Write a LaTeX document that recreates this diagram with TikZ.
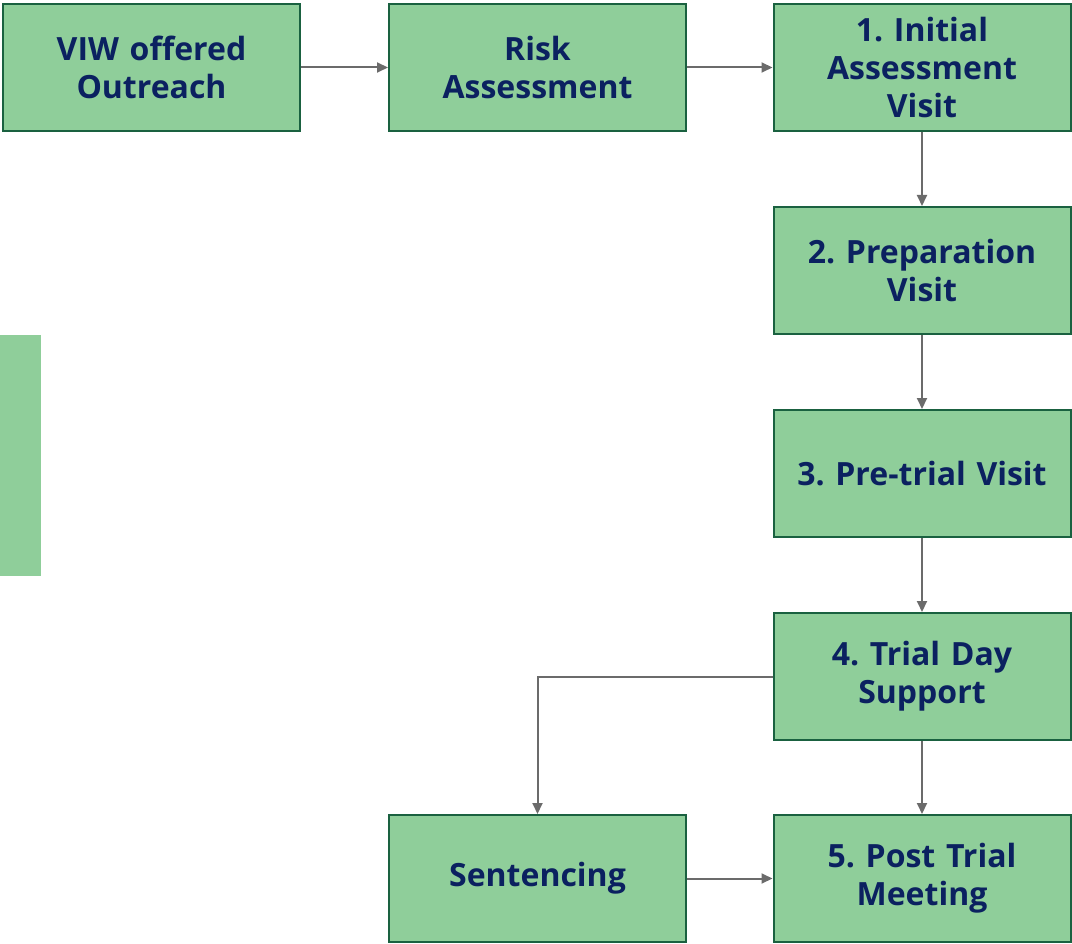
\documentclass[tikz,border=0pt]{standalone}
\usepackage{fontspec}
\setmainfont{Open Sans}
\usetikzlibrary{arrows.meta}
\definecolor{boxfill}{HTML}{8FCE9A}
\definecolor{boxline}{HTML}{1A6140}
\definecolor{boxtext}{HTML}{0B2160}
\definecolor{arrowc}{HTML}{6B6B6B}
\tikzset{
  stepbox/.style={draw=boxline, fill=boxfill, line width=2pt, minimum width=297pt, minimum height=127pt,
    inner sep=0pt, text width=292pt, align=center, text=boxtext,
    font=\fontsize{32}{38}\selectfont\bfseries\frenchspacing},
  conn/.style={draw=arrowc, line width=2pt, -{Triangle[length=11pt,width=10pt]}}
}
\begin{document}
\begin{tikzpicture}[x=1pt,y=-1pt]
\useasboundingbox (0,0) rectangle (1072,944);
\fill[boxfill] (0,335) rectangle (41,576);
\node[stepbox] (viw) at (151.5,67.5) {VIW offered\\Outreach};
\node[stepbox] (risk) at (537.5,67.5) {Risk\\Assessment};
\node[stepbox] (init) at (922,67.5) {1. Initial\\Assessment\\Visit};
\node[stepbox] (prep) at (922,270.5) {2. Preparation\\Visit};
\node[stepbox] (pre) at (922,473.5) {3. Pre-trial Visit};
\node[stepbox] (trial) at (922,676.5) {4. Trial Day\\Support};
\node[stepbox] (post) at (922,878.5) {5. Post Trial\\Meeting};
\node[stepbox] (sent) at (537.5,878.5) {Sentencing};
\draw[conn] (viw) -- (risk);
\draw[conn] (risk) -- (init);
\draw[conn] (init) -- (prep);
\draw[conn] (prep) -- (pre);
\draw[conn] (pre) -- (trial);
\draw[conn] (trial) -- (post);
\draw[conn] (sent) -- (post);
\draw[conn] (trial.west) -| (sent.north);
\end{tikzpicture}
\end{document}
